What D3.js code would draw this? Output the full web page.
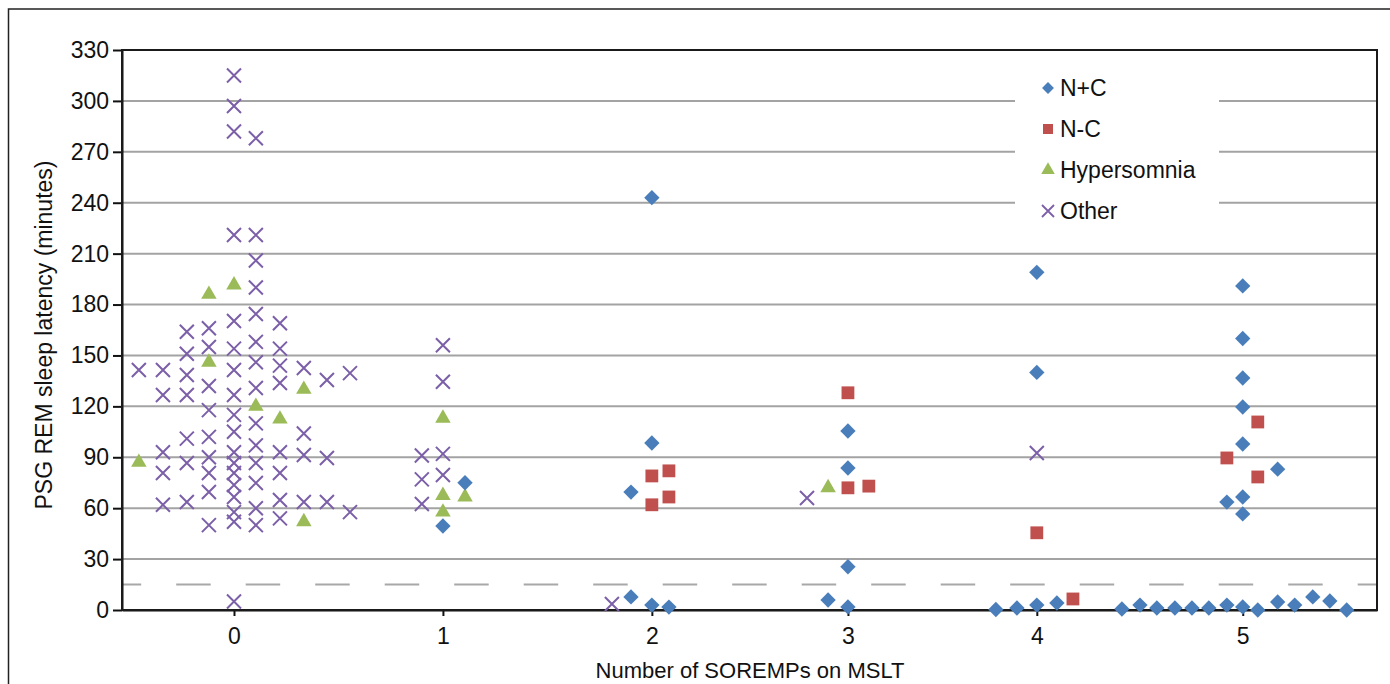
<!DOCTYPE html>
<html>
<head>
<meta charset="utf-8">
<script src="https://cdn.jsdelivr.net/npm/d3@7"></script>
<style>
  body { margin: 0; background: #fff; }
  svg { display: block; font-family: "Liberation Sans", Arial, sans-serif; }
</style>
</head>
<body>
<svg id="svg" width="1390" height="684"></svg>
<script>
var svg;
var width = 1390;
var height = 684;
var margin = { top: 50, right: 13, bottom: 74, left: 122 };
var innerW = width - margin.left - margin.right;
var innerH = height - margin.top - margin.bottom;

// y axis ticks, x tick positions (jittered axis units) and their labels
var yTicks = [0, 30, 60, 90, 120, 150, 180, 210, 240, 270, 300, 330];
var xTickPos = [-0.032, 1.009, 2.05, 3.027, 3.968, 4.994];
var xTickLabels = ['0', '1', '2', '3', '4', '5'];
var cutoff = 15;

// [x (jittered), REM latency in minutes]
var ncData = [
  [1.119, 75], [1.009, 49.5],
  [2.05, 243], [2.05, 98.4], [1.946, 69.5], [1.946, 7.7], [2.05, 2.9], [2.135, 1.7],
  [3.027, 105.5], [3.027, 83.7], [3.027, 25.5], [2.928, 5.9], [3.027, 1.8],
  [3.968, 199], [3.968, 140], [3.764, 0.3], [3.869, 1.2], [3.968, 2.9], [4.068, 4.1],
  [4.994, 191], [4.994, 160], [4.994, 136.7], [4.994, 119.6], [4.994, 97.8], [5.168, 83],
  [4.994, 66.6], [4.915, 63.6], [4.994, 56.6],
  [4.392, 0.6], [4.482, 2.9], [4.566, 1.2], [4.656, 1.2], [4.741, 1.2], [4.825, 1.2],
  [4.915, 2.9], [4.994, 1.8], [5.069, 0], [5.168, 4.7], [5.253, 2.9], [5.343, 7.7],
  [5.428, 5.3], [5.512, 0]
];
var nmcData = [
  [2.05, 79], [2.135, 82], [2.05, 62], [2.135, 66.6],
  [3.027, 128], [3.027, 72], [3.131, 73],
  [3.968, 45.5], [4.148, 6.5],
  [5.069, 110.8], [4.915, 89.6], [5.069, 78.4]
];
var hyperData = [
  [-0.506, 87], [-0.157, 186], [-0.032, 191.5], [-0.157, 146], [0.077, 120],
  [0.197, 112.5], [0.316, 130], [0.316, 52],
  [1.009, 113], [1.009, 67.5], [1.119, 66.6], [1.009, 57.7],
  [2.928, 72]
];
var otherData = [
  [-0.506, 141.4],
  [-0.386, 141.4], [-0.386, 126.7], [-0.386, 93], [-0.386, 80.7], [-0.386, 62],
  [-0.267, 164], [-0.267, 151], [-0.267, 138.5], [-0.267, 126.7], [-0.267, 101], [-0.267, 86.6], [-0.267, 63.6],
  [-0.157, 166], [-0.157, 155], [-0.157, 132], [-0.157, 117.8], [-0.157, 102], [-0.157, 90],
  [-0.157, 80.7], [-0.157, 69.5], [-0.157, 50],
  [-0.032, 315], [-0.032, 297], [-0.032, 282], [-0.032, 221], [-0.032, 170.3], [-0.032, 154],
  [-0.032, 141.4], [-0.032, 126.7], [-0.032, 115], [-0.032, 105], [-0.032, 93], [-0.032, 86.6],
  [-0.032, 80.7], [-0.032, 73.7], [-0.032, 66.6], [-0.032, 57.7], [-0.032, 52], [-0.032, 5],
  [0.077, 278], [0.077, 221], [0.077, 206], [0.077, 190], [0.077, 174.4], [0.077, 158],
  [0.077, 146], [0.077, 130.8], [0.077, 110], [0.077, 97], [0.077, 86.6], [0.077, 74.8],
  [0.077, 60], [0.077, 50],
  [0.197, 169], [0.197, 154], [0.197, 144], [0.197, 133.8], [0.197, 93], [0.197, 80.7], [0.197, 64.8], [0.197, 54],
  [0.316, 142.6], [0.316, 104], [0.316, 91.3], [0.316, 63.6],
  [0.431, 135.5], [0.431, 89.6], [0.431, 63.6],
  [0.546, 139.6], [0.546, 57.7],
  [1.009, 156], [1.009, 134.5], [0.904, 91], [1.009, 92], [0.904, 77], [1.009, 79.6], [0.904, 62.5],
  [1.851, 3.5],
  [2.823, 66],
  [3.968, 92.5]
];

var seriesNames = ['N+C', 'N-C', 'Hypersomnia', 'Other'];
var seriesColors = ['#4a7ebb', '#c0504d', '#9bbb59', '#7b5fa8'];

function xMark(h) {
    return 'M' + (-h) + ',' + (-h) + 'L' + h + ',' + h + 'M' + (-h) + ',' + h + 'L' + h + ',' + (-h);
}

document.addEventListener('DOMContentLoaded', function() {
    svg = d3.select('#svg');
    drawChart();
});

function drawChart() {
    svg.selectAll('*').remove();

    // outer frame
    svg.append('rect')
       .attr('x', 8.5).attr('y', 9)
       .attr('width', 1400).attr('height', 700)
       .style('fill', 'none')
       .style('stroke', '#222')
       .style('stroke-width', 1.5);

    var x = d3.scaleLinear().domain([-0.59, 5.663]).range([0, innerW]);
    var y = d3.scaleLinear().domain([0, 330]).range([innerH, 0]);

    var g = svg.append('g')
               .attr('transform', 'translate(' + margin.left + ',' + margin.top + ')');

    // gridlines
    g.selectAll('.grid')
     .data(yTicks.filter(function(d) { return d > 0 && d < 330; }))
     .enter()
     .append('line')
     .attr('x1', 0).attr('x2', innerW)
     .attr('y1', function(d) { return y(d); })
     .attr('y2', function(d) { return y(d); })
     .style('stroke', '#a3a3a3')
     .style('stroke-width', 2);

    // cutoff line at 15 minutes
    g.append('line')
     .attr('x1', 0).attr('x2', innerW)
     .attr('y1', y(cutoff)).attr('y2', y(cutoff))
     .style('stroke', '#a8a8a8')
     .style('stroke-width', 2)
     .style('stroke-dasharray', '34.5,35')
     .style('stroke-dashoffset', 15.3);

    // legend background hides the gridlines
    var lg = g.append('g').attr('transform', 'translate(' + (1015 - margin.left) + ',' + (64 - margin.top) + ')');
    lg.append('rect').attr('width', 204).attr('height', 168).style('fill', '#fff');

    // axes
    var yAxis = g.append('g')
                 .call(d3.axisLeft(y).tickValues(yTicks).tickSize(9).tickSizeOuter(0).tickPadding(4));
    var xAxis = g.append('g')
                 .attr('transform', 'translate(0,' + innerH + ')')
                 .call(d3.axisBottom(x).tickValues(xTickPos)
                        .tickFormat(function(d, i) { return xTickLabels[i]; })
                        .tickSize(6).tickSizeOuter(0).tickPadding(12));
    [yAxis, xAxis].forEach(function(a) {
        a.selectAll('path').style('stroke', '#111').style('stroke-width', 2);
        a.selectAll('line').style('stroke', '#111').style('stroke-width', 2);
        a.selectAll('text').style('font-family', '"Liberation Sans", Arial, sans-serif')
         .style('font-size', '23px').style('fill', '#111');
    });

    // plot border (top + right)
    g.append('rect')
     .attr('width', innerW).attr('height', innerH)
     .style('fill', 'none')
     .style('stroke', '#1a1a1a')
     .style('stroke-width', 2);

    // axis titles
    svg.append('text')
       .attr('transform', 'translate(44,' + (margin.top + innerH / 2 + 5) + ') rotate(-90)')
       .attr('text-anchor', 'middle')
       .attr('dy', '0.35em')
       .style('font-size', '23px')
       .style('fill', '#111')
       .text('PSG REM sleep latency (minutes)');
    svg.append('text')
       .attr('x', 750).attr('y', 678)
       .attr('text-anchor', 'middle')
       .style('font-size', '22px')
       .style('fill', '#111')
       .text('Number of SOREMPs on MSLT');

    // marks
    var diamond = d3.symbol().type(d3.symbolDiamond2).size(150);
    var square = d3.symbol().type(d3.symbolSquare).size(164);
    var triangle = d3.symbol().type(d3.symbolTriangle).size(104);

    g.selectAll('.other').data(otherData).enter().append('path')
     .attr('d', xMark(7))
     .attr('transform', function(d) { return 'translate(' + x(d[0]) + ',' + y(d[1]) + ')'; })
     .style('fill', 'none').style('stroke', seriesColors[3]).style('stroke-width', 2);

    g.selectAll('.hyper').data(hyperData).enter().append('path')
     .attr('d', triangle)
     .attr('transform', function(d) { return 'translate(' + x(d[0]) + ',' + y(d[1]) + ')'; })
     .style('fill', seriesColors[2]);

    g.selectAll('.nmc').data(nmcData).enter().append('path')
     .attr('d', square)
     .attr('transform', function(d) { return 'translate(' + x(d[0]) + ',' + y(d[1]) + ')'; })
     .style('fill', seriesColors[1]);

    g.selectAll('.nc').data(ncData).enter().append('path')
     .attr('d', diamond)
     .attr('transform', function(d) { return 'translate(' + x(d[0]) + ',' + y(d[1]) + ')'; })
     .style('fill', seriesColors[0]);

    // legend entries
    var items = lg.selectAll('.item').data(seriesNames).enter().append('g')
                  .attr('transform', function(d, i) { return 'translate(33,' + (24 + i * 41) + ')'; });
    items.append('path')
         .attr('d', function(d, i) {
             if (i === 0) return d3.symbol().type(d3.symbolDiamond2).size(90)();
             if (i === 1) return d3.symbol().type(d3.symbolSquare).size(100)();
             if (i === 2) return d3.symbol().type(d3.symbolTriangle).size(80)();
             return xMark(6);
         })
         .style('fill', function(d, i) { return i === 3 ? 'none' : seriesColors[i]; })
         .style('stroke', function(d, i) { return i === 3 ? seriesColors[3] : 'none'; })
         .style('stroke-width', 1.8);
    items.append('text')
         .attr('x', 12)
         .attr('dy', '0.35em')
         .style('font-size', '23px')
         .style('fill', '#111')
         .text(function(d) { return d; });
}
</script>
</body>
</html>
